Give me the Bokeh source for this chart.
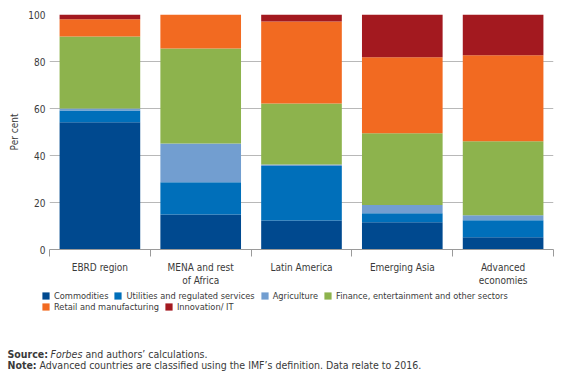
from bokeh.plotting import figure
from bokeh.models import ColumnDataSource, FixedTicker, Legend, LegendItem, Range1d
from bokeh.core.properties import value
from bokeh.embed import file_html
from bokeh.resources import INLINE

categories = ["EBRD region", "MENA and rest\nof Africa", "Latin America", "Emerging Asia", "Advanced\neconomies"]
series = ["Commodities", "Utilities and regulated services", "Agriculture",
          "Finance, entertainment and other sectors", "Retail and manufacturing", "Innovation/ IT"]
commodities = [54.2, 14.9, 12.3, 11.6, 5.2]
utilities = [4.9, 13.7, 23.2, 3.8, 7.3]
agriculture = [0.9, 16.5, 0.7, 3.5, 2.1]
finance = [30.6, 40.4, 25.9, 30.6, 31.5]
retail = [7.4, 14.5, 34.9, 32.3, 36.6]
innovation = [2.0, 0.0, 3.0, 18.2, 17.3]
colors = ["#00498F", "#006FBA", "#729ED0", "#8DB34D", "#F26A21", "#A3191F"]
y_ticks = [0, 20, 40, 60, 80, 100]

FONT = "'DejaVu Sans Condensed', 'Roboto'"
TXT = "#3a3a3a"
FS = "10px"
W = 567

keys = ["c", "u", "a", "f", "r", "i"]
xs = [i + 0.5 for i in range(len(categories))]
src = ColumnDataSource(dict(x=xs, c=commodities, u=utilities, a=agriculture,
                            f=finance, r=retail, i=innovation))

p = figure(width=W, height=289, output_backend="svg", toolbar_location=None,
           x_range=Range1d(0, len(categories)), y_range=Range1d(0, 100),
           min_border_left=49, min_border_right=14, min_border_top=14, min_border_bottom=40)
p.outline_line_color = None
p.xgrid.grid_line_color = None
p.ygrid.grid_line_color = "#b8b8b8"
p.ygrid.ticker = FixedTicker(ticks=y_ticks[1:])

renderers = p.vbar_stack(keys, x="x", width=0.8, color=colors, source=src, line_width=0)

# x axis
p.xaxis.ticker = FixedTicker(ticks=xs, minor_ticks=list(range(len(categories) + 1)))
p.xaxis.major_label_overrides = {x: c for x, c in zip(xs, categories)}
p.xaxis.major_tick_line_color = None
p.xaxis.major_tick_out = 0
p.xaxis.major_tick_in = 0
p.xaxis.minor_tick_line_color = "#9a9a9a"
p.xaxis.minor_tick_out = 7
p.xaxis.minor_tick_in = 0
p.xaxis.axis_line_color = "#9a9a9a"
p.xaxis.major_label_standoff = 5
p.xaxis.major_label_text_font = FONT
p.xaxis.major_label_text_font_size = FS
p.xaxis.major_label_text_color = TXT

# y axis
p.yaxis.ticker = FixedTicker(ticks=y_ticks)
p.yaxis.axis_line_color = None
p.yaxis.major_tick_line_color = None
p.yaxis.minor_tick_line_color = None
p.yaxis.major_tick_out = 0
p.yaxis.major_label_standoff = 4
p.yaxis.major_label_text_font = FONT
p.yaxis.major_label_text_font_size = FS
p.yaxis.major_label_text_color = TXT
p.yaxis.axis_label = "Per cent"
p.yaxis.axis_label_text_font = FONT
p.yaxis.axis_label_text_font_size = FS
p.yaxis.axis_label_text_font_style = "normal"
p.yaxis.axis_label_text_color = TXT
p.yaxis.axis_label_standoff = 5

# lower panel: legend and notes
H2 = 90
q = figure(width=W, height=H2, output_backend="svg", toolbar_location=None,
           x_range=Range1d(0, W), y_range=Range1d(H2, 0), min_border=0,
           x_axis_location=None, y_axis_location=None)
q.grid.visible = False
q.outline_line_color = None

dummies = [q.vbar(x=[0], top=[float("nan")], width=1, color=c, line_width=0) for c in colors]

def make_legend(idx, y):
    lg = Legend(items=[LegendItem(label=series[k], renderers=[dummies[k]]) for k in idx],
                orientation="horizontal", location=(41, y),
                glyph_width=9, glyph_height=9, label_standoff=4, spacing=5,
                padding=0, margin=0, label_height=9,
                label_text_font=FONT, label_text_font_size="9.2px", label_text_color=TXT,
                background_fill_alpha=0, border_line_color=None)
    q.add_layout(lg, "center")

make_legend([0, 1, 2, 3], H2 - 12)
make_legend([4, 5], H2 - 23)

def txt(x, y, t, style="normal"):
    q.text(x=[x], y=[y], text=[t], text_font=value(FONT), text_font_size="10.5px",
           text_color=TXT, text_font_style=style, text_baseline="alphabetic")

txt(7, 64, "Source:", "bold")
txt(50, 64, "Forbes", "italic")
txt(85, 64, "and authors\u2019 calculations.")
txt(7, 75, "Note:", "bold")
txt(39, 75, "Advanced countries are classified using the IMF\u2019s definition. Data relate to 2016.")

open("out.html", "w").write(file_html([p, q], INLINE))
